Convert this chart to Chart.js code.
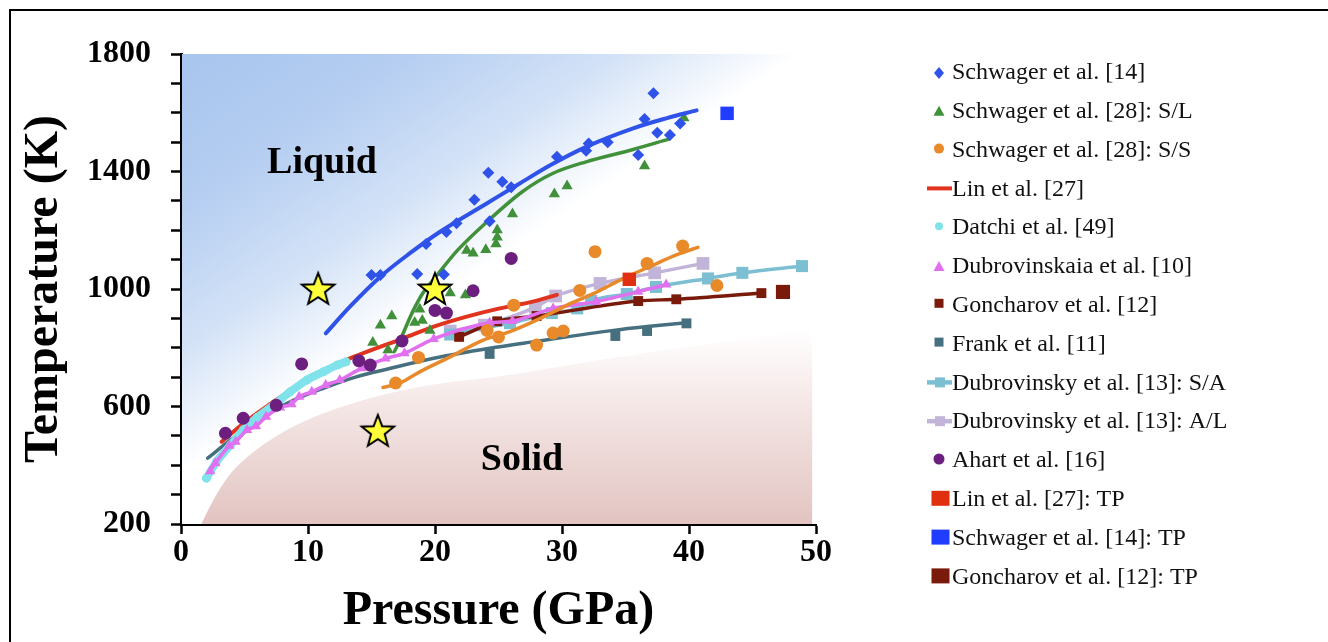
<!DOCTYPE html>
<html>
<head>
<meta charset="utf-8">
<script src="https://cdn.jsdelivr.net/npm/chart.js@4.4.0/dist/chart.umd.min.js"></script>
<style>
html,body{margin:0;padding:0;background:#fff;overflow:hidden}
#wrap{width:1328px;height:642px;position:relative}
</style>
</head>
<body>
<div id="wrap"><canvas id="c"></canvas></div>
<script>
// ---------------- DATA ----------------
const xTicks = [0, 10, 20, 30, 40, 50];
const yTickLabels = [200, 600, 1000, 1400, 1800];

const schwager14P = [15.0, 15.7, 18.6, 20.7, 19.3, 20.9, 21.7, 23.1, 24.3, 24.2, 25.3, 26.0, 29.6, 31.9, 32.1, 33.6, 36.0, 36.5, 37.2, 37.5, 38.5, 39.3];
const schwager14T = [1048, 1048, 1051, 1049, 1153, 1194, 1224, 1304, 1231, 1396, 1365, 1346, 1450, 1471, 1495, 1500, 1456, 1579, 1666, 1532, 1524, 1563];
const schwager14FitP = [11.4, 13.3, 15.7, 18.0, 20.4, 24.1, 26.7, 29.1, 31.9, 35.6, 38.2, 40.6];
const schwager14FitT = [849, 940, 1042, 1121, 1195, 1292, 1360, 1422, 1484, 1547, 1581, 1608];

const schwagerSLP = [15.1, 15.7, 16.3, 16.6, 18.4, 18.8, 19.0, 19.6, 21.2, 22.4, 22.5, 23.0, 24.0, 24.8, 24.9, 24.9, 26.1, 29.4, 30.4, 36.5, 39.6];
const schwagerSLT = [818, 877, 792, 908, 886, 931, 893, 859, 986, 980, 1131, 1122, 1134, 1153, 1176, 1201, 1255, 1323, 1351, 1419, 1582];
const schwagerSLFitP = [16.8, 17.2, 18.3, 19.1, 19.9, 21.8, 24.1, 26.9, 29.3, 31.9, 35.6, 38.4];
const schwagerSLFitT = [787, 821, 928, 990, 1033, 1133, 1229, 1332, 1394, 1433, 1475, 1510];

const schwagerSSP = [16.9, 18.7, 24.1, 25.0, 26.2, 28.0, 29.3, 30.1, 31.4, 32.6, 36.7, 39.5, 42.2];
const schwagerSST = [680, 767, 859, 837, 945, 809, 850, 857, 995, 1127, 1087, 1146, 1012];
const schwagerSSFitP = [15.9, 17.2, 18.8, 21.2, 23.8, 25.9, 28.3, 30.4, 32.5, 34.6, 36.9, 39.0, 40.7];
const schwagerSSFitT = [665, 679, 718, 769, 826, 855, 900, 945, 985, 1031, 1076, 1116, 1142];

const linP = [3.2, 5.0, 6.9, 11.5, 13.8, 17.5, 19.9, 22.5, 25.1, 27.7, 29.6];
const linT = [480, 545, 605, 730, 772, 832, 872, 906, 934, 957, 980];

const datchiP = [2.0, 2.8, 3.9, 4.9, 6.0, 7.3, 8.6, 9.9, 11.2, 12.3, 13.0];
const datchiT = [356, 412, 469, 520, 563, 605, 650, 690, 718, 741, 752];

const dubrovinskaiaP = [2.3, 2.7, 3.8, 4.3, 5.2, 5.9, 6.7, 7.8, 8.7, 9.3, 10.3, 11.4, 12.5, 14.2, 16.1, 17.6, 19.9, 24.3, 26.1, 29.3, 32.7, 36.0, 38.2];
const dubrovinskaiaT = [380, 407, 466, 480, 520, 533, 565, 597, 608, 633, 650, 673, 690, 730, 763, 781, 830, 885, 891, 934, 957, 991, 1015];

const goncharovP = [21.9, 24.9, 28.0, 36.0, 39.0, 45.7];
const goncharovT = [837, 890, 908, 959, 965, 986];

const frankLineP = [2.1, 3.9, 6.0, 8.6, 11.2, 13.8, 16.5, 19.9, 24.3, 27.7, 34.2, 36.7, 39.8];
const frankLineT = [424, 486, 554, 616, 662, 701, 730, 764, 798, 820, 860, 872, 885];
const frankMarkP = [24.3, 34.2, 36.7, 39.8];
const frankMarkT = [779, 840, 857, 883];

const dubrovinskySAP = [21.2, 25.9, 29.2, 31.2, 32.3, 35.1, 37.4, 41.5, 44.2, 48.9];
const dubrovinskySAT = [845, 884, 918, 934, 960, 983, 1007, 1036, 1055, 1078];

const dubrovinskyALP = [21.2, 23.9, 27.9, 29.5, 33.0, 37.3, 41.1];
const dubrovinskyALT = [857, 877, 938, 976, 1019, 1055, 1087];

const ahartP = [3.5, 4.9, 7.5, 9.5, 14.0, 14.9, 17.4, 20.0, 20.9, 23.0, 26.0];
const ahartT = [509, 560, 604, 745, 756, 741, 823, 927, 918, 994, 1104];

const linTPP = [35.3];        const linTPT = [1033];
const schwagerTPP = [43.0];   const schwagerTPT = [1598];
const goncharovTPP = [47.4];  const goncharovTPT = [990];

const starP = [10.8, 20.0, 15.5];
const starT = [1000, 1000, 517];

// phase-region outline (solid region upper edge) in data units
const solidEdgeP = [1.6, 3.1, 5.7, 9.6, 14.9, 20.2, 25.1, 33.0, 40.9, 49.7];
const solidEdgeT = [200, 340, 452, 554, 632, 680, 700, 760, 810, 860];

const regionLabels = ['Liquid', 'Solid'];
const regionLabelP = [11.1, 26.85];
const regionLabelT = [1429, 418];

const legendLabels = [
  'Schwager et al. [14]', 'Schwager et al. [28]: S/L', 'Schwager et al. [28]: S/S',
  'Lin et al. [27]', 'Datchi et al. [49]', 'Dubrovinskaia et al. [10]',
  'Goncharov et al. [12]', 'Frank et al. [11]', 'Dubrovinsky et al. [13]: S/A',
  'Dubrovinsky et al. [13]: A/L', 'Ahart et al. [16]', 'Lin et al. [27]: TP',
  'Schwager et al. [14]: TP', 'Goncharov et al. [12]: TP'
];

// ---------------- helpers & styles ----------------
const SERIF = '"Liberation Serif", "Times New Roman", serif';
function xy(P, T) { return P.map((p, i) => ({ x: p, y: T[i] })); }

const C = {
  blue: '#2f52e8', green: '#41903a', orange: '#e8892a', red: '#e0341e',
  cyan: '#80e2ea', magenta: '#e070f0', maroon: '#7a1a0a', teal: '#46707f',
  ltblue: '#7cbfd3', lavender: '#c2b4d8', purple: '#6c1f7e',
  tpRed: '#e0300f', tpBlue: '#1f3cff'
};

const legendSymbols = [
  { kind: 'diamond', color: C.blue },
  { kind: 'triangle', color: C.green },
  { kind: 'circle', color: C.orange, r: 5 },
  { kind: 'line', color: C.red },
  { kind: 'circle', color: C.cyan, r: 4 },
  { kind: 'triangle', color: C.magenta },
  { kind: 'square', color: C.maroon },
  { kind: 'square', color: C.teal },
  { kind: 'lineSquare', color: C.ltblue },
  { kind: 'lineSquare', color: C.lavender },
  { kind: 'circle', color: C.purple, r: 5.5 },
  { kind: 'bigSquare', color: C.tpRed },
  { kind: 'bigSquare', color: C.tpBlue },
  { kind: 'bigSquare', color: C.maroon }
];

function makeStar() {
  const c = document.createElement('canvas');
  c.width = 40; c.height = 40;
  const g = c.getContext('2d');
  g.beginPath();
  for (let i = 0; i < 10; i++) {
    const r = i % 2 === 0 ? 17 : 7.2;
    const a = -Math.PI / 2 + i * Math.PI / 5;
    g.lineTo(20 + r * Math.cos(a), 21 + r * Math.sin(a));
  }
  g.closePath();
  g.fillStyle = '#ffff3a';
  g.fill();
  g.lineWidth = 2;
  g.lineJoin = 'miter';
  g.strokeStyle = '#000';
  g.stroke();
  return c;
}
const starImg = makeStar();

function pts(label, P, T, color, style, radius, extra) {
  return Object.assign({
    label, data: xy(P, T), showLine: false,
    pointStyle: style, pointRadius: radius, pointHoverRadius: radius,
    backgroundColor: color, borderColor: color, pointBorderWidth: 0
  }, extra || {});
}
function line(label, P, T, color, width, extra) {
  return Object.assign({
    label, data: xy(P, T), showLine: true, pointRadius: 0, pointHoverRadius: 0,
    borderColor: color, backgroundColor: color, borderWidth: width,
    cubicInterpolationMode: 'monotone', borderCapStyle: 'round', borderJoinStyle: 'round'
  }, extra || {});
}

// first dataset is drawn on top
const datasets = [
  pts('stars', starP, starT, '#ffff3a', starImg, 17),
  pts(legendLabels[11], linTPP, linTPT, C.tpRed, 'rect', 9.5),
  pts(legendLabels[12], schwagerTPP, schwagerTPT, C.tpBlue, 'rect', 9.5),
  pts(legendLabels[13], goncharovTPP, goncharovTPT, C.maroon, 'rect', 10),
  pts(legendLabels[10], ahartP, ahartT, C.purple, 'circle', 6.5),
  pts(legendLabels[0], schwager14P, schwager14T, C.blue, 'rectRot', 6),
  line('Schwager et al. [14] fit', schwager14FitP, schwager14FitT, C.blue, 4),
  pts(legendLabels[1], schwagerSLP, schwagerSLT, C.green, 'triangle', 6.5),
  line('Schwager et al. [28] S/L fit', schwagerSLFitP, schwagerSLFitT, C.green, 3.5),
  pts(legendLabels[2], schwagerSSP, schwagerSST, C.orange, 'circle', 6.5),
  line('Schwager et al. [28] S/S fit', schwagerSSFitP, schwagerSSFitT, C.orange, 3.5),
  line(legendLabels[5], dubrovinskaiaP, dubrovinskaiaT, C.magenta, 3.5,
       { pointStyle: 'triangle', pointRadius: 6, pointBorderWidth: 0 }),
  line(legendLabels[4], datchiP, datchiT, C.cyan, 8,
       { pointStyle: 'circle', pointRadius: 4.5, pointBorderWidth: 0 }),
  line(legendLabels[3], linP, linT, C.red, 4),
  line(legendLabels[6], goncharovP, goncharovT, C.maroon, 3.5,
       { pointStyle: 'rect', pointRadius: 7, pointBorderWidth: 0 }),
  line(legendLabels[8], dubrovinskySAP, dubrovinskySAT, C.ltblue, 3.5,
       { pointStyle: 'rect', pointRadius: 8.5, pointBorderWidth: 0 }),
  line(legendLabels[9], dubrovinskyALP, dubrovinskyALT, C.lavender, 3.5,
       { pointStyle: 'rect', pointRadius: 9, pointBorderWidth: 0 }),
  pts('Frank et al. [11] markers', frankMarkP, frankMarkT, C.teal, 'rect', 7),
  line(legendLabels[7], frankLineP, frankLineT, C.teal, 3.5)
];

// ---------------- plugins ----------------
const backgroundPlugin = {
  id: 'phaseBackground',
  beforeDatasetsDraw(chart) {
    const { ctx, chartArea: a, scales: { x, y } } = chart;
    ctx.save();
    // liquid (blue) wash
    const w = a.right - a.left, h = a.bottom - a.top;
    const g = ctx.createLinearGradient(a.left, a.top, a.left + 0.36 * w, a.top + 0.72 * h);
    g.addColorStop(0, 'rgb(168,197,238)');
    g.addColorStop(0.3, 'rgb(180,205,241)');
    g.addColorStop(0.6, 'rgb(211,226,247)');
    g.addColorStop(0.85, 'rgb(255,255,255)');
    g.addColorStop(1, 'rgb(255,255,255)');
    ctx.fillStyle = g;
    ctx.fillRect(a.left + 1, a.top, w, h);
    // solid (pink) region
    const px = solidEdgeP.map(p => x.getPixelForValue(p));
    const py = solidEdgeT.map(t => y.getPixelForValue(t));
    ctx.beginPath();
    ctx.moveTo(px[0], py[0]);
    for (let i = 1; i < px.length - 1; i++) {
      const mx = (px[i] + px[i + 1]) / 2, my = (py[i] + py[i + 1]) / 2;
      ctx.quadraticCurveTo(px[i], py[i], mx, my);
    }
    ctx.lineTo(px[px.length - 1], py[py.length - 1]);
    ctx.lineTo(px[px.length - 1], a.bottom);
    ctx.lineTo(px[0], a.bottom);
    ctx.closePath();
    const topY = py[py.length - 1];
    const g2 = ctx.createLinearGradient(0, topY, 0, a.bottom);
    g2.addColorStop(0, 'rgba(255,255,255,1)');
    g2.addColorStop(0.35, 'rgb(245,233,232)');
    g2.addColorStop(1, 'rgb(226,196,193)');
    ctx.fillStyle = g2;
    ctx.fill();
    // region labels
    ctx.fillStyle = '#000';
    ctx.font = 'bold 38px ' + SERIF;
    ctx.textAlign = 'center';
    ctx.textBaseline = 'middle';
    regionLabels.forEach((t, i) => {
      ctx.fillText(t, x.getPixelForValue(regionLabelP[i]), y.getPixelForValue(regionLabelT[i]));
    });
    ctx.restore();
  }
};

const framePlugin = {
  id: 'frame',
  beforeDraw(chart) {
    const ctx = chart.ctx;
    ctx.save();
    ctx.fillStyle = '#fff';
    ctx.fillRect(0, 0, chart.width, chart.height);
    ctx.strokeStyle = '#000';
    ctx.lineWidth = 2;
    ctx.beginPath();
    ctx.moveTo(10, chart.height);
    ctx.lineTo(10, 10);
    ctx.lineTo(chart.width, 10);
    ctx.stroke();
    ctx.restore();
  }
};

const legendPlugin = {
  id: 'customLegend',
  afterDraw(chart) {
    const ctx = chart.ctx;
    ctx.save();
    const mx = 939, tx = 952, y0 = 73, dy = 38.8;
    legendLabels.forEach((label, i) => {
      const s = legendSymbols[i];
      const y = y0 + i * dy;
      ctx.fillStyle = s.color;
      ctx.strokeStyle = s.color;
      ctx.beginPath();
      switch (s.kind) {
        case 'diamond':
          ctx.moveTo(mx, y - 6); ctx.lineTo(mx + 5, y); ctx.lineTo(mx, y + 6); ctx.lineTo(mx - 5, y);
          ctx.closePath(); ctx.fill(); break;
        case 'triangle':
          ctx.moveTo(mx, y - 6); ctx.lineTo(mx + 5.5, y + 4); ctx.lineTo(mx - 5.5, y + 4);
          ctx.closePath(); ctx.fill(); break;
        case 'circle':
          ctx.arc(mx, y - 2, s.r, 0, Math.PI * 2); ctx.fill(); break;
        case 'square':
          ctx.fillRect(mx - 4.5, y - 7, 9, 9); break;
        case 'line':
          ctx.lineWidth = 4; ctx.moveTo(mx - 12, y - 1); ctx.lineTo(tx, y - 1); ctx.stroke(); break;
        case 'lineSquare':
          ctx.lineWidth = 4.5; ctx.moveTo(mx - 12, y - 1); ctx.lineTo(tx, y - 1); ctx.stroke();
          ctx.fillRect(mx - 4, y - 6, 10, 10); break;
        case 'bigSquare':
          ctx.fillRect(mx - 7.5, y - 9, 18, 15); break;
      }
      ctx.fillStyle = '#111';
      ctx.font = '24px ' + SERIF;
      ctx.textAlign = 'left';
      ctx.textBaseline = 'middle';
      ctx.fillText(label, tx, y);
    });
    ctx.restore();
  }
};

// ---------------- chart ----------------
new Chart(document.getElementById('c'), {
  type: 'scatter',
  data: { datasets },
  plugins: [framePlugin, backgroundPlugin, legendPlugin],
  options: {
    responsive: true,
    maintainAspectRatio: false,
    animation: false,
    devicePixelRatio: 1,
    events: [],
    layout: { padding: { left: 16, top: 54, right: 512, bottom: 0 } },
    plugins: { legend: { display: false }, tooltip: { enabled: false } },
    scales: {
      x: {
        type: 'linear', min: xTicks[0], max: xTicks[xTicks.length - 1],
        afterFit: s => { s.height = 118; },
        afterBuildTicks: s => { s.ticks = xTicks.map(v => ({ value: v })); },
        ticks: { color: '#000', padding: 0, font: { family: SERIF, size: 32, weight: 'bold' }, autoSkip: false, maxRotation: 0 },
        grid: { drawOnChartArea: false, drawTicks: true, tickLength: 10, tickWidth: 2.5, tickColor: '#000' },
        border: { display: true, color: '#000', width: 3 },
        title: { display: true, text: 'Pressure (GPa)', color: '#000', padding: { top: 0, bottom: 2 },
                 font: { family: SERIF, size: 48, weight: 'bold' } }
      },
      y: {
        type: 'linear', min: 200, max: 1800,
        afterFit: s => { s.width = 165; },
        ticks: {
          stepSize: 100, autoSkip: false, color: '#000', padding: 20,
          font: { family: SERIF, size: 32, weight: 'bold' },
          callback: v => (yTickLabels.includes(v) ? String(v) : '')
        },
        grid: { drawOnChartArea: false, drawTicks: true, tickLength: 10, tickWidth: 2.5, tickColor: '#000' },
        border: { display: true, color: '#000', width: 3 },
        title: { display: true, text: 'Temperature (K)', color: '#000', padding: { top: 0, bottom: 0 },
                 font: { family: SERIF, size: 48, weight: 'bold' } }
      }
    }
  }
});
</script>
</body>
</html>
